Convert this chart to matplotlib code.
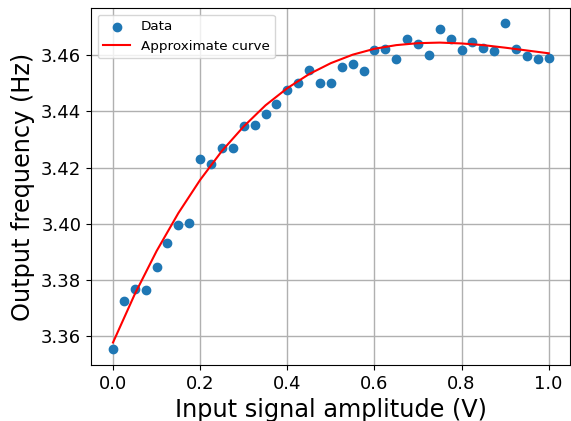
import numpy as np
import matplotlib
matplotlib.use('Agg')
import matplotlib.pyplot as plt

amplitude = [0.0, 0.025, 0.05, 0.075, 0.1, 0.125, 0.15, 0.175, 0.2, 0.225,
             0.25, 0.275, 0.3, 0.325, 0.35, 0.375, 0.4, 0.425, 0.45, 0.475,
             0.5, 0.525, 0.55, 0.575, 0.6, 0.625, 0.65, 0.675, 0.7, 0.725,
             0.75, 0.775, 0.8, 0.825, 0.85, 0.875, 0.9, 0.925, 0.95, 0.975, 1.0]
frequency = [3.3556, 3.3724, 3.3769, 3.3766, 3.3848, 3.3931, 3.3996, 3.4004,
             3.4231, 3.4213, 3.4269, 3.4269, 3.4349, 3.4350, 3.4389, 3.4427,
             3.4475, 3.4499, 3.4547, 3.4502, 3.4502, 3.4557, 3.4568, 3.4544,
             3.4617, 3.4620, 3.4585, 3.4656, 3.4638, 3.4599, 3.4692, 3.4656,
             3.4617, 3.4645, 3.4624, 3.4613, 3.4713, 3.4621, 3.4598, 3.4585,
             3.4588]

# approximate curve
curve_x = [0.0, 0.05, 0.1, 0.15, 0.2, 0.25, 0.3, 0.35, 0.4, 0.45, 0.5,
           0.55, 0.6, 0.65, 0.7, 0.75, 0.8, 0.85, 0.9, 0.95, 1.0]
curve_y = [3.3578, 3.3750, 3.3903, 3.4038, 3.4156, 3.4259, 3.4346, 3.4421,
           3.4482, 3.4532, 3.4571, 3.4601, 3.4622, 3.4635, 3.4642, 3.4644,
           3.4641, 3.4635, 3.4626, 3.4616, 3.4606]

x_ticks = [0.0, 0.2, 0.4, 0.6, 0.8, 1.0]
y_ticks = [3.36, 3.38, 3.40, 3.42, 3.44, 3.46]

fig = plt.figure(figsize=(5.71, 4.21), dpi=100)
ax = fig.add_axes([0.1594, 0.133, 0.8389, 0.848])

ax.scatter(amplitude, frequency, label='Data', zorder=3)
ax.plot(curve_x, curve_y, color='red', label='Approximate curve', zorder=4)

ax.set_xticks(x_ticks)
ax.set_yticks(y_ticks)
ax.set_xlim(-0.0505, 1.049)
ax.set_ylim(3.3498, 3.4767)
ax.tick_params(labelsize=13)
ax.grid(True, linewidth=1.0)
ax.set_axisbelow(True)

ax.set_xlabel('Input signal amplitude (V)', fontsize=17.3)
ax.set_ylabel('Output frequency (Hz)', fontsize=17.3)
ax.legend(loc='upper left', fontsize=9.7)

fig.savefig('out.png', dpi=100)
